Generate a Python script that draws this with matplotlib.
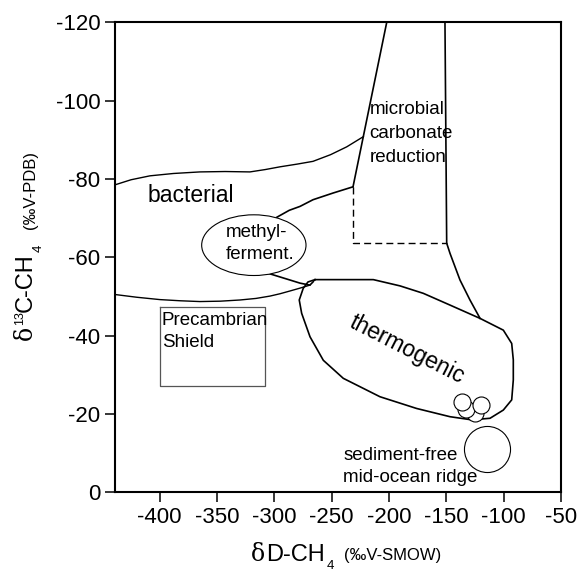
import matplotlib
matplotlib.use('Agg')
import matplotlib.pyplot as plt
from matplotlib.patches import Ellipse

plt.rcParams['font.family'] = ['Liberation Sans', 'DejaVu Sans']

# ---------------- data ----------------
x_ticks = [-400, -350, -300, -250, -200, -150, -100, -50]
y_ticks = [0, -20, -40, -60, -80, -100, -120]
x_ticklabels = ['-400', '-350', '-300', '-250', '-200', '-150', '-100', '-50']
y_ticklabels = ['0', '-20', '-40', '-60', '-80', '-100', '-120']

thermo_x = [-264.6, -238.4, -213.7, -190.4, -170.1, -146.8, -120.6, -100.3, -93.0, -91.6,
            -91.6, -93.0, -100.3, -111.9, -127.9, -146.8, -175.9, -207.9, -239.9, -257.3,
            -268.9, -276.2, -278.3, -274.8, -270.7, -264.6]
thermo_y = [-54.3, -54.3, -54.3, -52.7, -50.8, -47.8, -44.4, -41.4, -38.0, -33.8,
            -28.7, -23.6, -21.0, -18.9, -18.5, -19.3, -21.4, -24.4, -29.1, -33.7,
            -39.7, -45.7, -49.1, -52.1, -53.7, -54.3]

micro_right_x = [-151.2, -149.7, -146.8, -138.1, -129.4, -120.6]
micro_right_y = [-120.0, -63.6, -61.0, -54.2, -49.1, -44.4]
micro_left_x = [-202.0, -231.4]
micro_left_y = [-120.0, -78.0]
micro_dash_x = [-231.4, -231.4, -149.7]
micro_dash_y = [-78.0, -63.6, -63.6]

bact_upper_x = [-439.0, -425.0, -408.5, -388.0, -364.9, -343.0, -321.3, -308.0, -295.1,
                -280.0, -266.3, -251.0, -236.9, -222.4]
bact_upper_y = [-78.5, -79.8, -80.8, -81.4, -81.8, -81.9, -81.8, -82.4, -83.1,
                -83.8, -84.5, -86.2, -88.2, -90.8]
bact_lower_x = [-439.0, -420.0, -399.8, -382.0, -364.9, -347.0, -330.0, -316.0, -303.8,
                -295.0, -286.4, -278.0, -269.0]
bact_lower_y = [-50.5, -49.8, -49.2, -48.9, -48.7, -48.8, -49.1, -49.5, -50.1,
                -50.7, -51.4, -52.1, -52.9]

ferm_upper_x = [-298.0, -287.0, -277.6, -266.3, -248.9, -231.4]
ferm_upper_y = [-70.2, -72.0, -73.0, -74.7, -76.4, -78.0]
ferm_lower_x = [-309.7, -286.4, -277.6, -269.0, -266.0]
ferm_lower_y = [-56.3, -54.2, -53.4, -52.9, -53.8]
ferm_center = (-317.9, -63.1)
ferm_size = (91.0, 15.5)

shield_x = [-400.0, -308.0]
shield_y = [-47.4, -27.1]

vent_x = [-125.0, -132.9, -120.0, -136.6]
vent_y = [-20.2, -21.2, -22.3, -23.1]
ridge_x = [-114.3]
ridge_y = [-11.0]

# ---------------- figure ----------------
W, H = 577, 572
fig = plt.figure(figsize=(W / 100, H / 100), dpi=100)
ax = fig.add_axes([115 / W, 1 - 492.3 / H, 446 / W, 470 / H])
ax.set_xlim(-439, -50)
ax.set_ylim(0, -120)

ax.set_xticks(x_ticks)
ax.set_xticklabels(x_ticklabels)
ax.set_yticks(y_ticks)
ax.set_yticklabels(y_ticklabels)
ax.tick_params(axis='both', direction='out', length=7, width=1.1, labelsize=16, pad=3.5)
ax.tick_params(top=False, right=False)
for s in ax.spines.values():
    s.set_linewidth(1.5)

lw = 1.2
ax.plot(thermo_x, thermo_y, color='black', lw=lw)
ax.plot(micro_right_x, micro_right_y, color='black', lw=lw)
ax.plot(micro_left_x, micro_left_y, color='black', lw=lw)
ax.plot(micro_dash_x, micro_dash_y, color='black', lw=1.0, dashes=(5, 3))
ax.plot(bact_upper_x, bact_upper_y, color='black', lw=1.0)
ax.plot(bact_lower_x, bact_lower_y, color='black', lw=1.0)
ax.plot(ferm_upper_x, ferm_upper_y, color='black', lw=lw)
ax.plot(ferm_lower_x, ferm_lower_y, color='black', lw=lw)
ax.add_patch(Ellipse(ferm_center, ferm_size[0], ferm_size[1], facecolor='white',
                     edgecolor='black', lw=0.8, zorder=3))
ax.plot([shield_x[0], shield_x[1], shield_x[1], shield_x[0], shield_x[0]],
        [shield_y[0], shield_y[0], shield_y[1], shield_y[1], shield_y[0]],
        color='#555555', lw=0.9)

ax.scatter(vent_x, vent_y, s=150, facecolor='white', edgecolor='black', lw=0.8, zorder=4)
ax.scatter(ridge_x, ridge_y, s=1100, facecolor='white', edgecolor='black', lw=0.8, zorder=4)

# ---------------- texts ----------------
ax.text(-410.2, -74.2, 'bacterial', fontsize=16.5, ha='left', va='baseline')
ax.text(-312.5, -63.6, 'methyl-\nferment.', fontsize=13.5, ha='center', va='center',
        multialignment='left', linespacing=1.37, zorder=5)
ax.text(-217.2, -84.3, 'microbial\ncarbonate\nreduction', fontsize=13.5, ha='left',
        va='baseline', linespacing=1.54)
ax.text(-398.3, -37.2, 'Precambrian\nShield', fontsize=13.5, ha='left', va='baseline',
        linespacing=1.37)
ax.text(-183.9, -36.4, 'thermogenic', fontsize=16.5, ha='center', va='center',
        rotation=-27, rotation_mode='anchor')
ax.text(-239.9, -2.7, 'sediment-free\nmid-ocean ridge', fontsize=13.5, ha='left',
        va='baseline', linespacing=1.37)

def ftext(px, py, s, **kw):
    fig.text(px / W, 1 - py / H, s, **kw)

# x label
ftext(251, 561, '\u03b4', fontsize=17, family=['DejaVu Serif'], va='baseline')
ftext(266, 561, 'D-CH', fontsize=17, va='baseline')
ftext(327, 569, '4', fontsize=9.5, va='baseline')
ftext(344, 560, '(\u2030V-SMOW)', fontsize=12, va='baseline')

# y label
rk = dict(rotation=90, rotation_mode='anchor', ha='left', va='baseline')
ftext(32, 340, '\u03b4', fontsize=17, family=['DejaVu Serif'], **rk)
ftext(23, 325, '13', fontsize=9, **rk)
ftext(32, 312, 'C-CH', fontsize=17, **rk)
ftext(42, 252, '4', fontsize=9.5, **rk)
ftext(35, 229, '(\u2030V-PDB)', fontsize=12, **rk)

fig.savefig('out.png', dpi=100)
